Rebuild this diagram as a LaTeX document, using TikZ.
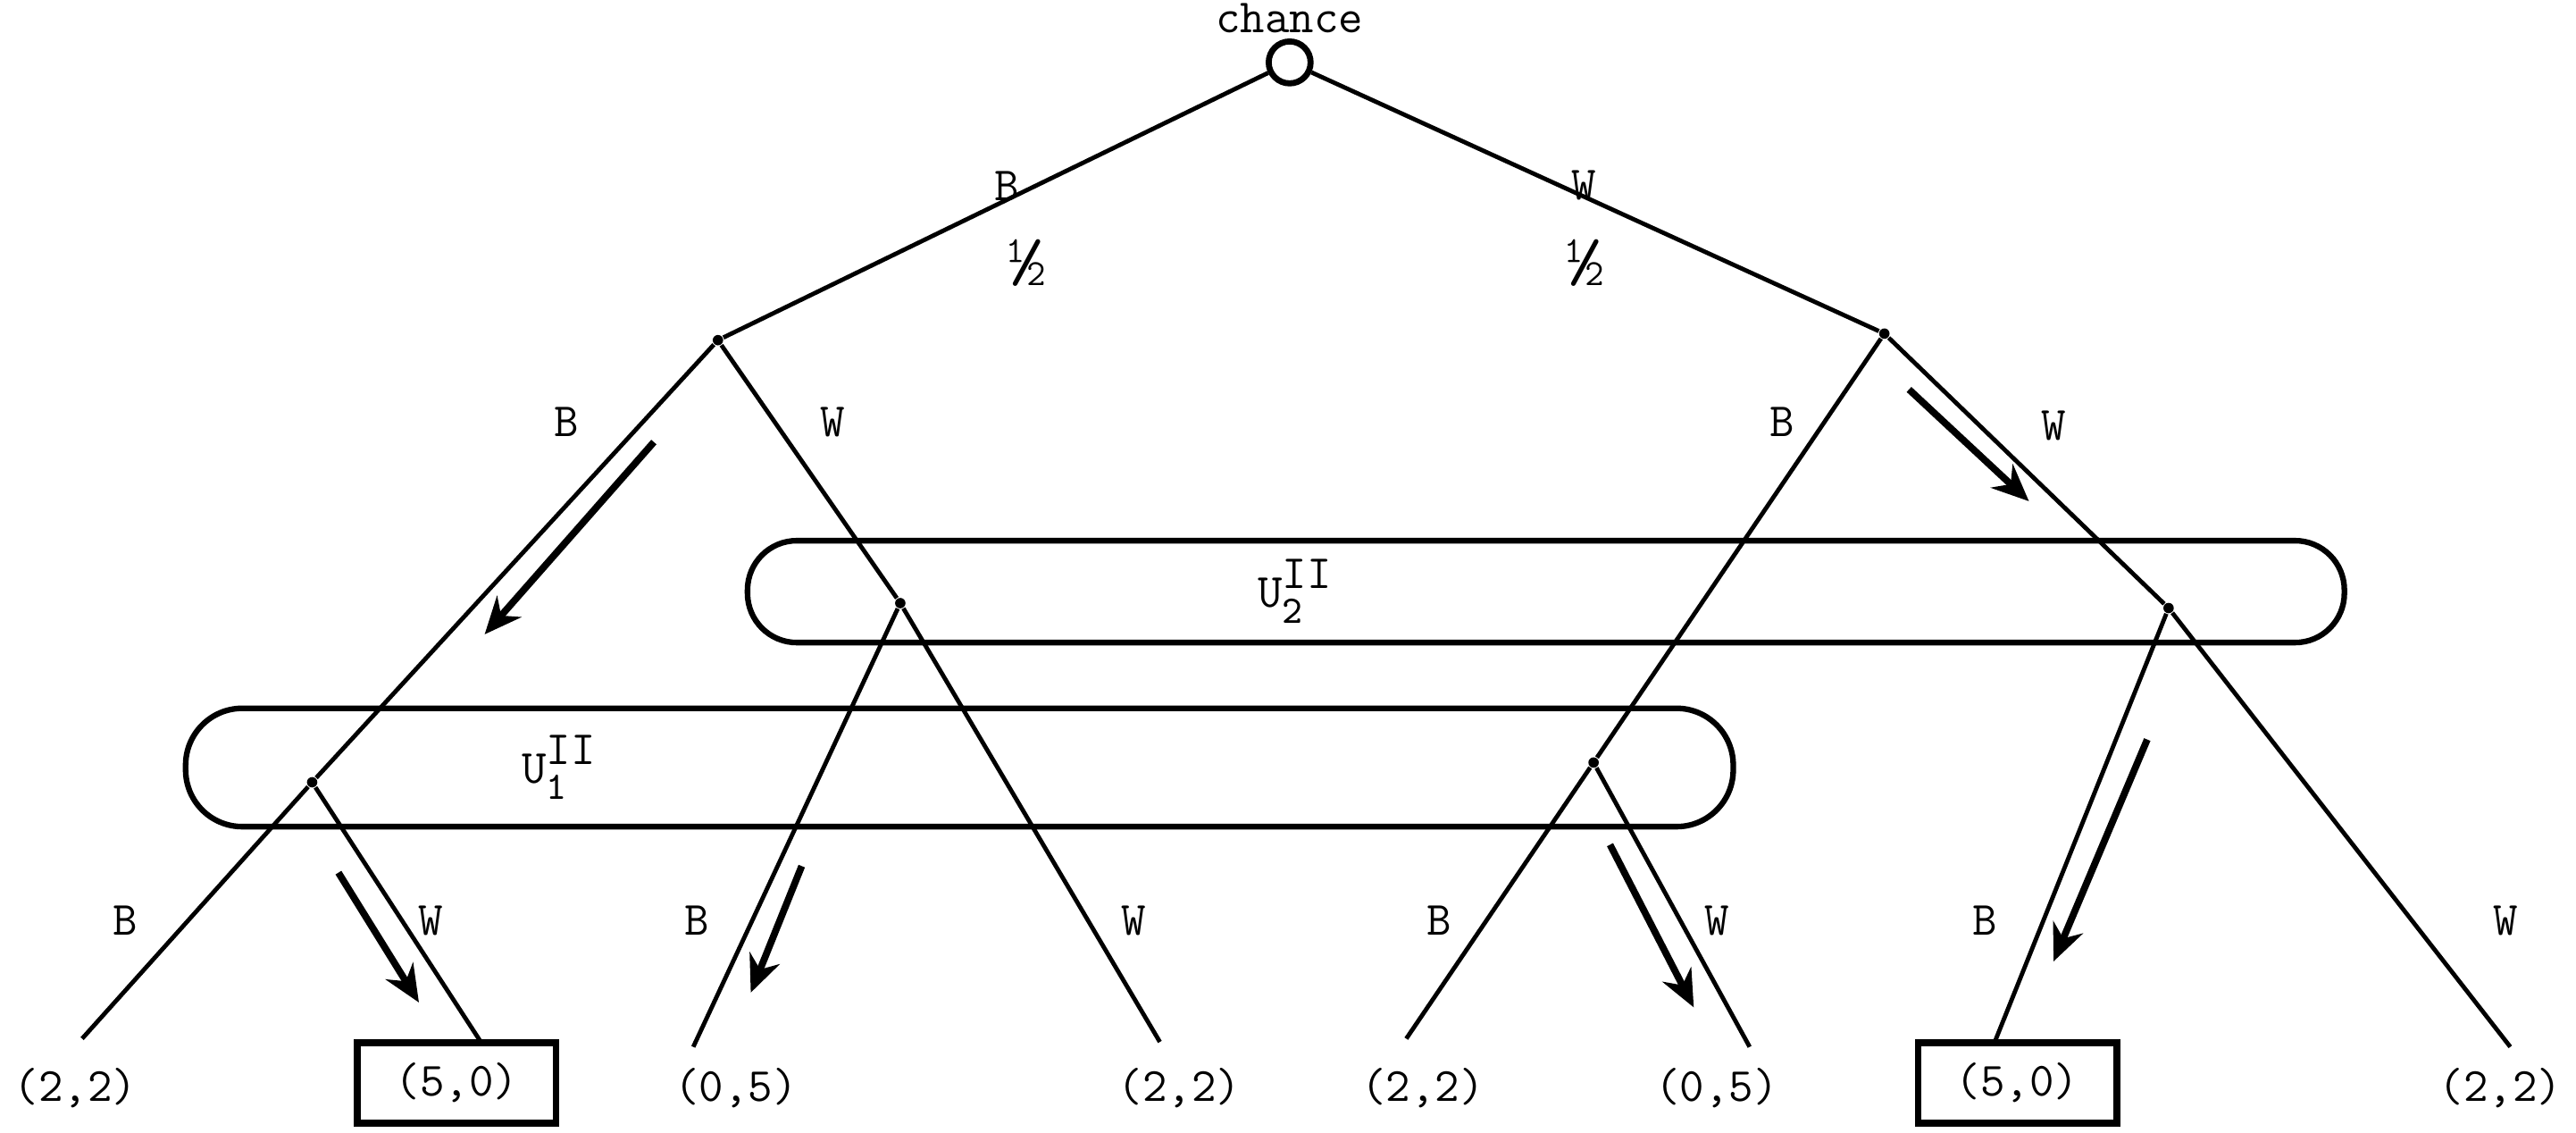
\documentclass[tikz,border=0pt]{standalone}
\usetikzlibrary{positioning,arrows.meta}

\newcommand{\infolabel}[1]{U\makebox[0pt][l]{\raisebox{-0.8ex}{\small #1}}\raisebox{0.9ex}{II}}

\begin{document}
\begin{tikzpicture}[x=1.333cm, y=1.333cm,
    every node/.style={font=\ttfamily\fontsize{11}{13}\selectfont},
    chance/.style={circle, draw, line width=1.4pt, minimum size=0.34cm, inner sep=0pt},
    dot/.style={circle, fill, minimum size=2.4pt, inner sep=0pt},
    branch/.style={line width=1pt},
    infoset/.style={line width=1.3pt},
    chosen/.style={draw, line width=1.6pt, minimum width=1.61cm, minimum height=0.65cm, inner sep=1pt},
    strat/.style={-{Stealth[length=3mm,width=2.6mm]}, line width=1.6pt}
]
\useasboundingbox (0,0) rectangle (15.68,6.89);

% Chance move
\node[chance] (c) at (7.85,6.51) {};
\node (clabel) at (7.85,6.78) {chance};

% Player I
\node[dot] (L) at (4.37,4.82) {};
\node[dot] (R) at (11.47,4.86) {};

% Player II
\node[dot] (LB) at (1.90,2.13) {};
\node[dot] (LW) at (5.48,3.22) {};
\node[dot] (RB) at (9.70,2.25) {};
\node[dot] (RW) at (13.20,3.19) {};

% Payoffs
\node (p1) at (0.46,0.27) {(2,2)};
\node[chosen] (p2) at (2.78,0.30) {(5,0)};
\node (p3) at (4.48,0.27) {(0,5)};
\node (p4) at (7.18,0.27) {(2,2)};
\node (p5) at (8.66,0.27) {(2,2)};
\node (p6) at (10.45,0.27) {(0,5)};
\node[chosen] (p7) at (12.28,0.30) {(5,0)};
\node (p8) at (15.22,0.27) {(2,2)};

\coordinate (t1) at (0.50,0.57);
\coordinate (t2) at (2.93,0.545);
\coordinate (t3) at (4.22,0.52);
\coordinate (t4) at (7.06,0.55);
\coordinate (t5) at (8.56,0.57);
\coordinate (t6) at (10.65,0.52);
\coordinate (t7) at (12.14,0.545);
\coordinate (t8) at (15.28,0.52);

% Information sets
\draw[infoset, rounded corners=4mm] (4.55,2.98) rectangle (14.27,3.60);
\node (u2) at (7.88,3.29) {\infolabel{2}};
\draw[infoset, rounded corners=4.6mm] (1.13,1.86) rectangle (10.55,2.58);
\node (u1) at (3.40,2.22) {\infolabel{1}};

% Branches
\draw[branch] (c) -- (L);
\draw[branch] (c) -- (R);
\draw[branch] (L) -- (LB) -- (t1);
\draw[branch] (LB) -- (t2);
\draw[branch] (L) -- (LW) -- (t4);
\draw[branch] (LW) -- (t3);
\draw[branch] (R) -- (RB) -- (t5);
\draw[branch] (RB) -- (t6);
\draw[branch] (R) -- (RW) -- (t8);
\draw[branch] (RW) -- (t7);

% Labels
\node (cb) at (6.13,5.76) {B};
\node (cbp) at (6.25,5.29) {\fontsize{17}{17}\selectfont\textonehalf};
\node (cw) at (9.64,5.76) {W};
\node (cwp) at (9.65,5.29) {\fontsize{17}{17}\selectfont\textonehalf};
\node (lb) at (3.45,4.32) {B};
\node (lw) at (5.07,4.32) {W};
\node (rb) at (10.85,4.32) {B};
\node (rw) at (12.50,4.30) {W};
\node (lbb) at (0.76,1.29) {B};
\node (lbw) at (2.62,1.29) {W};
\node (lwb) at (4.24,1.29) {B};
\node (lww) at (6.90,1.29) {W};
\node (rbb) at (8.76,1.29) {B};
\node (rbw) at (10.45,1.29) {W};
\node (rwb) at (12.08,1.29) {B};
\node (rww) at (15.25,1.29) {W};

% Arrows
\draw[strat] (3.98,4.20) -- (2.95,3.03);
\draw[strat] (11.62,4.52) -- (12.35,3.84);
\draw[strat] (2.06,1.58) -- (2.55,0.79);
\draw[strat] (4.88,1.62) -- (4.57,0.85);
\draw[strat] (9.80,1.75) -- (10.31,0.76);
\draw[strat] (13.07,2.39) -- (12.50,1.04);

\end{tikzpicture}
\end{document}
